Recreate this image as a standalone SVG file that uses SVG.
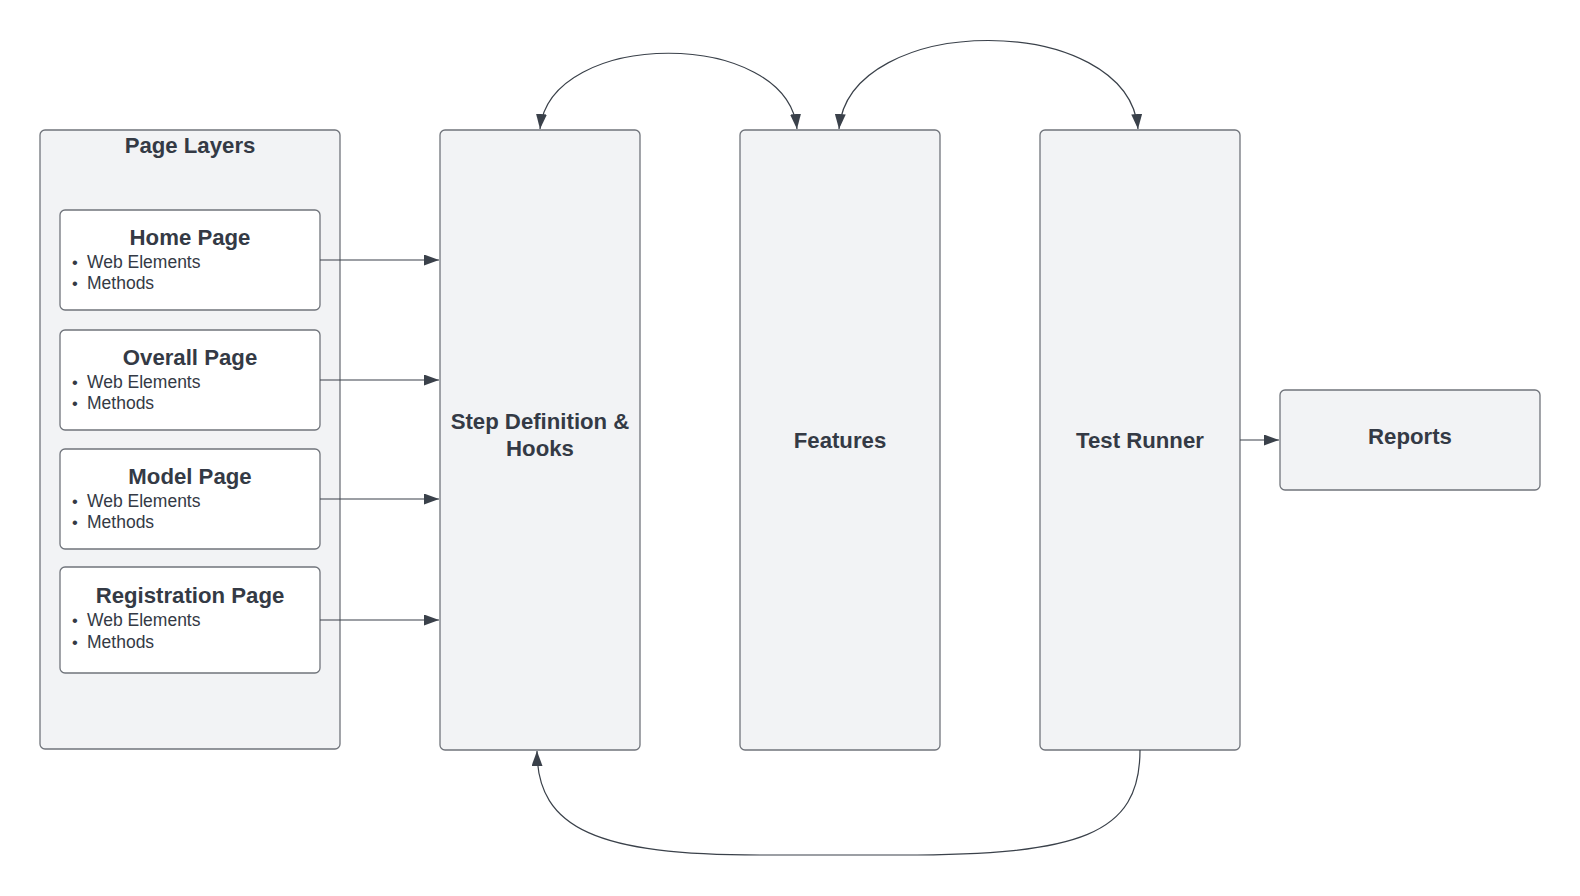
<svg xmlns="http://www.w3.org/2000/svg" width="1580" height="896" viewBox="0 0 1580 896">
<style>
.box{fill:#f2f3f5;stroke:#70747b;stroke-width:1.3}
.page{fill:#ffffff;stroke:#70747b;stroke-width:1.3}
.t{font-family:"Liberation Sans",Arial,sans-serif;fill:#343a45}
.h{font-weight:bold;font-size:22.2px;text-anchor:middle}
.pt{font-weight:bold;font-size:22.2px;text-anchor:middle}
.b{font-size:17.5px}
.d{font-size:16.5px}
.c{fill:none;stroke:#3a414a;stroke-width:1.2}
</style>
<defs>
<marker id="ah" viewBox="0 0 15 11" refX="15" refY="5.5" markerWidth="15" markerHeight="11" markerUnits="userSpaceOnUse" orient="auto-start-reverse">
<path d="M0,0 L15,5.5 L0,11 Z" fill="#3a414a"/>
</marker>
</defs>
<rect width="1580" height="896" fill="#ffffff"/>
<g id="page-layers">
<rect class="box" x="40" y="130" width="300" height="619" rx="5"/>
<text class="t h" x="190" y="153">Page Layers</text>
</g>
<g id="home-page">
<rect class="page" x="60" y="210" width="260" height="100" rx="5"/>
<text class="t pt" x="190" y="244.5">Home Page</text>
<text class="t d" x="72" y="267.5">•</text><text class="t b" x="87" y="268">Web Elements</text>
<text class="t d" x="72" y="288.5">•</text><text class="t b" x="87" y="289">Methods</text>
</g>
<g id="overall-page">
<rect class="page" x="60" y="330" width="260" height="100" rx="5"/>
<text class="t pt" x="190" y="364.5">Overall Page</text>
<text class="t d" x="72" y="387.5">•</text><text class="t b" x="87" y="388">Web Elements</text>
<text class="t d" x="72" y="408.5">•</text><text class="t b" x="87" y="409">Methods</text>
</g>
<g id="model-page">
<rect class="page" x="60" y="449" width="260" height="100" rx="5"/>
<text class="t pt" x="190" y="484">Model Page</text>
<text class="t d" x="72" y="506.5">•</text><text class="t b" x="87" y="507">Web Elements</text>
<text class="t d" x="72" y="527.5">•</text><text class="t b" x="87" y="528">Methods</text>
</g>
<g id="registration-page">
<rect class="page" x="60" y="567" width="260" height="106" rx="5"/>
<text class="t pt" x="190" y="602.5">Registration Page</text>
<text class="t d" x="72" y="625.5">•</text><text class="t b" x="87" y="626">Web Elements</text>
<text class="t d" x="72" y="647.5">•</text><text class="t b" x="87" y="648">Methods</text>
</g>
<g id="step-definition">
<rect class="box" x="440" y="130" width="200" height="620" rx="5"/>
<text class="t h" x="540" y="429">Step Definition &amp;</text>
<text class="t h" x="540" y="456">Hooks</text>
</g>
<g id="features">
<rect class="box" x="740" y="130" width="200" height="620" rx="5"/>
<text class="t h" x="840" y="448">Features</text>
</g>
<g id="test-runner">
<rect class="box" x="1040" y="130" width="200" height="620" rx="5"/>
<text class="t h" x="1140" y="448">Test Runner</text>
</g>
<g id="reports">
<rect class="box" x="1280" y="390" width="260" height="100" rx="5"/>
<text class="t h" x="1410" y="444">Reports</text>
</g>
<g id="connectors">
<path class="c" d="M320,260 L439,260" marker-end="url(#ah)"/>
<path class="c" d="M320,380 L439,380" marker-end="url(#ah)"/>
<path class="c" d="M320,499 L439,499" marker-end="url(#ah)"/>
<path class="c" d="M320,620 L439,620" marker-end="url(#ah)"/>
<path class="c" d="M1240,440 L1279,440" marker-end="url(#ah)"/>
<path class="c" d="M540,129 C550,28 787,28 797,129" marker-start="url(#ah)" marker-end="url(#ah)"/>
<path class="c" d="M839,129 C849,11 1128,11 1138,129" marker-start="url(#ah)" marker-end="url(#ah)"/>
<path class="c" d="M1140,750 C1140,835 1080,855 900,855 L760,855 C600,855 537,830 537,751" marker-end="url(#ah)"/>
</g>
</svg>
